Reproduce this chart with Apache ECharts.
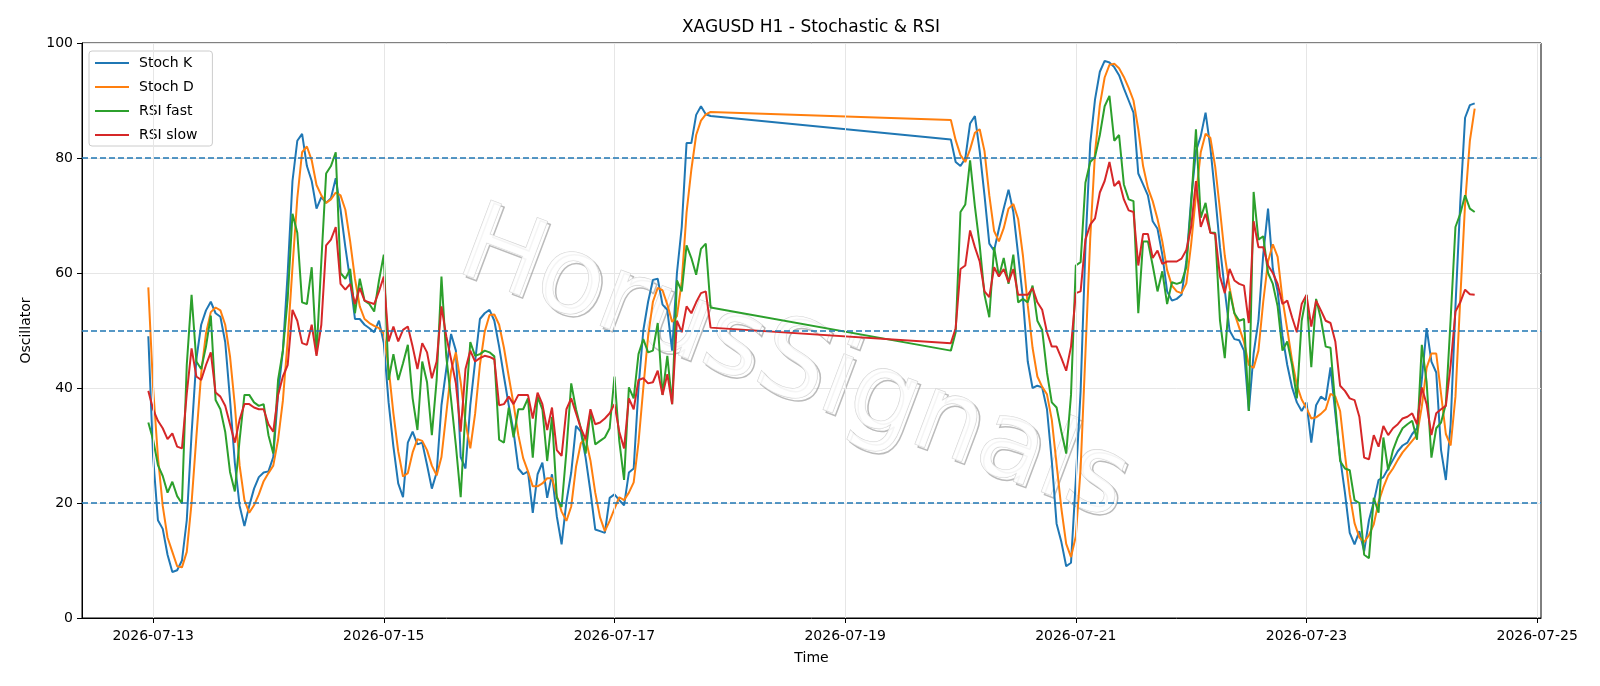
<!DOCTYPE html>
<html>
<head>
<meta charset="utf-8">
<title>XAGUSD H1 - Stochastic &amp; RSI</title>
<script src="https://cdn.jsdelivr.net/npm/echarts@6/dist/echarts.min.js"></script>
<style>
  html, body { margin: 0; padding: 0; background: #fff; }
  #chart { width: 1600px; height: 686px; }
</style>
</head>
<body>
<div id="chart"></div>
<script>
const HOUR = 3600 * 1000;

// two hourly sessions, weekend gap in between
const sessions = [
  { start: Date.UTC(2026, 6, 12, 23), hours: 118 },
  { start: Date.UTC(2026, 6, 19, 22), hours: 110 }
];

const tickDates = ['2026-07-13', '2026-07-15', '2026-07-17', '2026-07-19', '2026-07-21', '2026-07-23', '2026-07-25'];
const levels = [80, 50, 20];

const stochK = [
  // week 1
  49, 28, 17, 15.5, 11, 8, 8.3, 10, 17, 32,
  45, 51, 53.5, 55, 53, 52.4, 48, 38, 27, 19.5,
  16, 19.5, 22.5, 24.5, 25.3, 25.5, 28, 39, 46.5, 60,
  76, 83, 84.2, 78.6, 76, 71.2, 73.2, 72.2, 73, 76.5,
  71, 64.5, 58.7, 52, 52, 51, 50.4, 49.7, 51.7, 47.8,
  37.5, 29.8, 23.4, 21, 30.5, 32.4, 30.2, 30.5, 26.6, 22.5,
  25.3, 37, 43.3, 49.4, 46.5, 28, 26, 37, 44.6, 52,
  53, 53.6, 51.7, 47.2, 42, 37, 32.4, 26, 25, 25.5,
  18.3, 25, 27, 20.9, 25, 17.7, 12.8, 20.2, 25.3, 33.4,
  32.4, 27.9, 22, 15.4, 15.1, 14.8, 20.9, 21.5, 20.5, 19.6,
  25.3, 26, 40, 50, 55, 58.8, 59, 54.5, 53.6, 46.5,
  60, 68, 82.6, 82.6, 87.5, 89, 87.6, 87.3,
  // week 2
  83.2, 79.3, 78.6, 79.9, 86, 87.3, 81.2, 73.5, 65.1, 63.9,
  67.7, 71.2, 74.5, 70.6, 63.2, 55.5, 44.6, 40, 40.4, 40.1,
  36.3, 27.3, 16.4, 13.2, 9, 9.6, 24, 39.5, 64.5, 82.5,
  90.2, 95, 96.9, 96.6, 95.8, 94.4, 92.1, 90, 87.9, 77.3,
  75.4, 73.5, 69, 67.7, 63.2, 56.8, 55.2, 55.5, 56.2, 62,
  72.8, 81.2, 83.8, 87.9, 81.8, 73.5, 64.5, 57, 50, 48.5,
  48.3, 46.5, 36, 46, 51.7, 63.2, 71.2, 60.7, 56.8, 49.1,
  44, 40.1, 37.5, 36, 37.5, 30.5, 37, 38.5, 37.9, 43.6,
  35.6, 27.9, 21.8, 14.8, 12.8, 15.1, 11.6, 17, 20.2, 24,
  24.5, 26, 27.5, 29, 30, 30.5, 32, 33, 41.5, 50.4,
  44.6, 42.7, 29.2, 24, 33.7, 54.2, 72.2, 87, 89.2, 89.5
];

const stochD = [
  57.5, 40, 28, 19.5, 14, 11.5, 9, 8.8, 11.5, 20,
  31.5, 42.5, 49.5, 53.2, 54, 53.5, 51, 45.5, 37, 26.5,
  20.5, 18.3, 19.6, 21.5, 23.8, 25.2, 26.5, 31, 37.8, 48.3,
  61, 73, 81, 82, 79.6, 75.3, 73.5, 72.2, 72.8, 74,
  73.5, 71, 65.5, 59, 54.2, 52, 51.3, 50.8, 50.4, 49.5,
  43.5, 35.6, 29, 24.6, 25.2, 28.8, 31.1, 30.8, 29.2, 26.5,
  24.8, 28, 35.5, 43, 46.2, 41, 34, 29.5, 35.5, 44,
  49.8, 52.7, 52.8, 51, 47, 42, 37.2, 31.8, 27.8, 25.5,
  22.9, 22.9, 23.4, 24.3, 24.3, 21.2, 18.5, 16.9, 19.4, 26.3,
  30.4, 31.3, 27.4, 21.8, 17.5, 15.1, 16.9, 19, 21, 20.5,
  21.8, 23.6, 30.5, 40, 49, 55, 57.4, 57, 54.5, 51.5,
  52.5, 58.5, 70.5, 78, 84, 86.5, 87.6, 88,
  86.6, 83.1, 80.5, 79.3, 81.5, 84.4, 85, 81.2, 73.5, 67.3,
  65.5, 67.8, 71.2, 72, 69.4, 63, 54.4, 47, 42, 40.2,
  38.9, 34.5, 26.7, 19, 12.9, 10.6, 14.2, 26, 46, 66,
  81, 89.2, 94, 96.2, 96.4, 95.6, 94.1, 92.2, 90, 85,
  78.6, 74.8, 72.5, 69.4, 65.5, 60.5, 57.8, 56.8, 56.5, 58.2,
  65, 73.5, 81, 84.2, 83.5, 78.5, 71, 63, 57.5, 53,
  50.5, 48, 44, 43.5, 46.5, 55, 62, 65, 62.8, 55.5,
  50.2, 44.8, 40.5, 38, 36.5, 34.7, 34.9, 35.5, 36.3, 39,
  38.5, 36, 28.5, 21.5, 16.5, 14, 13.2, 14.4, 16.3, 20.2,
  22.7, 24.8, 26, 27.5, 28.8, 29.8, 30.8, 31.8, 36.8, 43.5,
  46, 46, 39, 32, 30, 38.5, 55.5, 72, 83, 88.6
];

const rsiFast = [
  34, 31, 26.6, 24.7, 21.8, 23.7, 21.2, 19.9, 44, 56.2,
  44.6, 43.3, 47.2, 52.6, 37.9, 36.3, 32.4, 25.4, 22, 31,
  38.8, 38.8, 37.5, 36.9, 37.2, 31.8, 28.6, 41.4, 46.5, 55.5,
  70.3, 67, 54.9, 54.6, 61, 45.9, 62, 77.3, 78.6, 81,
  60, 59, 60.7, 53, 59, 55.2, 54.6, 53.3, 58.7, 63.2,
  41.4, 45.9, 41.4, 44.3, 47.5, 38.2, 32.7, 44.6, 41, 31.8,
  41.4, 59.4, 45.5, 38, 30, 21, 36.3, 48, 45.6, 45.9,
  46.5, 46.2, 45.5, 31, 30.5, 36.6, 31.4, 36.3, 36.3, 38.2,
  27.9, 38.5, 36.3, 27.3, 35, 20.9, 19.3, 29, 40.8, 36.3,
  33, 28.6, 36, 30.2, 30.8, 31.4, 33, 42, 30.8, 24,
  40.1, 38.2, 45.9, 48.5, 46.2, 46.5, 51.3, 38.8, 45.6, 37.2,
  58.7, 56.8, 64.8, 62.6, 59.7, 64.2, 65.1, 54,
  46.5, 49.7, 70.6, 71.9, 79.6, 71.6, 64.8, 56.2, 52.3, 64.5,
  59.4, 62.6, 58.1, 63.2, 54.9, 55.5, 54.9, 57.8, 51.7, 50.1,
  42.7, 37.5, 36.6, 32.4, 28.6, 38.8, 61.3, 61.9, 75.7, 79.3,
  80.2, 84, 89, 90.8, 83, 84, 75.4, 72.8, 72.5, 53,
  65.5, 65.5, 61.3, 56.8, 60.3, 54.6, 58.4, 58.1, 58.4, 61,
  72, 85, 69.6, 72.2, 67, 67, 51.7, 45.2, 56.8, 53,
  51.7, 52, 36, 74.1, 65.8, 66.4, 60, 58.1, 54.2, 46.5,
  48.1, 44, 38.2, 51.7, 56.2, 43.6, 55.5, 52, 47.2, 47,
  37, 27.3, 26, 25.7, 20.5, 20, 11, 10.4, 20.9, 18.3,
  31.4, 25.7, 29.2, 31.4, 33, 33.7, 34.3, 31, 47.5, 41,
  27.9, 33, 34, 37.2, 52, 68, 70.3, 73.5, 71.2, 70.6
];

const rsiSlow = [
  39.5, 36.3, 34.3, 33, 31.1, 32.1, 29.8, 29.5, 39, 46.9,
  42, 41.4, 44, 46.2, 39.2, 38.5, 36.9, 33.7, 30.5, 34.5,
  37.2, 37.2, 36.6, 36.3, 36.3, 33.7, 32.4, 38.8, 42, 44,
  53.6, 51.7, 47.8, 47.5, 51, 45.6, 51, 64.8, 65.8, 68,
  58.1, 57.1, 58.1, 54.6, 57.4, 55.2, 54.9, 54.6, 56.8, 59.4,
  48.1, 50.7, 48.1, 50.1, 50.7, 47.2, 43.3, 47.8, 46.2, 41.7,
  44.6, 54.2, 49, 45, 40.8, 32.4, 43.3, 46.5, 44.6, 45.2,
  45.6, 45.4, 45, 37, 37.2, 38.5, 37.2, 38.8, 38.8, 38.8,
  34.7, 39.2, 37.2, 32.7, 36.6, 29.2, 28.2, 36.3, 38.2, 35.6,
  33, 31.1, 36.3, 33.7, 34, 34.7, 35.6, 37.2, 32.4, 29.5,
  38.2, 36.3, 41.4, 41.7, 40.8, 41, 43, 38.8, 42.4, 37.2,
  51.7, 49.7, 54.2, 53, 54.9, 56.5, 56.8, 50.5,
  47.8, 50.4, 60.7, 61.3, 67.4, 64.5, 62, 56.8, 55.8, 61,
  59.4, 60.7, 58.4, 60.7, 56.2, 56.2, 56.2, 57.4, 54.9, 53.6,
  49.7, 47.2, 47.2, 45.2, 43, 47.2, 56.5, 56.8, 65.8, 68.4,
  69.5, 74, 76, 79.3, 75.1, 76, 72.8, 70.9, 70.6, 61.3,
  66.8, 66.8, 62.6, 63.9, 61.6, 62, 62, 62, 62.5, 64,
  68, 76, 68, 70.3, 67, 66.8, 59.4, 56.5, 60.7, 58.7,
  58.1, 57.8, 51.3, 69, 64.5, 64.5, 61.3, 60, 58.1, 54.6,
  55.2, 52.3, 49.7, 54.6, 56.2, 50.7, 55.2, 53.5, 51.7, 51.3,
  48.1, 40.4, 39.5, 38.2, 37.9, 35, 27.9, 27.6, 31.8, 29.8,
  33.4, 31.8, 33, 33.7, 34.7, 35, 35.6, 33.7, 40.1, 37.2,
  31.8, 35.6, 36.3, 36.9, 44, 53.3, 54.9, 57.1, 56.3, 56.2
];

const times = [];
sessions.forEach(s => {
  for (let i = 0; i < s.hours; i++) times.push(s.start + i * HOUR);
});

const tickValues = tickDates.map(d => Date.parse(d + 'T00:00:00Z'));
const font = 'DejaVu Sans';

function lineSeries(name, values, color) {
  return {
    name: name,
    type: 'line',
    data: times.map((t, i) => [t, values[i]]),
    symbol: 'none',
    lineStyle: { width: 2, color: color },
    itemStyle: { color: color },
    z: 3
  };
}

// watermark: grey outline with a darker offset shadow
function watermark(dx, dy, stroke, fill, width) {
  return {
    type: 'text',
    x: 793 + dx, y: 368 + dy,
    rotation: -0.36,
    z: 1,
    silent: true,
    style: {
      text: 'HorusSignals',
      font: '108px "DejaVu Sans"',
      align: 'center',
      verticalAlign: 'middle',
      fill: fill,
      stroke: stroke,
      lineWidth: width
    }
  };
}

const chart = echarts.init(document.getElementById('chart'));

const option = {
  animation: false,
  backgroundColor: '#fff',
  title: {
    text: 'XAGUSD H1 - Stochastic & RSI',
    left: 811,
    textAlign: 'center',
    top: 19,
    padding: 0,
    textStyle: { fontFamily: font, fontSize: 17, fontWeight: 'normal', color: '#000' }
  },
  legend: {
    data: ['Stoch K', 'Stoch D', 'RSI fast', 'RSI slow'],
    orient: 'vertical',
    left: 89,
    top: 51,
    itemWidth: 34,
    itemHeight: 14,
    itemGap: 10,
    padding: [5, 15, 4, 5],
    backgroundColor: 'rgba(255,255,255,0.8)',
    borderColor: '#cccccc',
    borderWidth: 1,
    borderRadius: 3,
    itemStyle: { opacity: 0 },
    textStyle: { fontFamily: font, fontSize: 14, color: '#000', padding: [0, 0, 0, 5] }
  },
  graphic: [
    watermark(3, 3, 'rgba(150,150,150,0.65)', 'rgba(255,255,255,0)', 1.5),
    watermark(0, 0, '#d4d4d4', 'rgba(255,255,255,0.85)', 1.2)
  ],
  grid: {
    left: 82, right: 59, top: 43, bottom: 68,
    show: true,
    borderColor: '#000',
    borderWidth: 1,
    backgroundColor: 'transparent'
  },
  xAxis: {
    type: 'value',
    min: Date.UTC(2026, 6, 12, 9, 12),
    max: Date.UTC(2026, 6, 25, 0, 48),
    name: 'Time',
    nameLocation: 'middle',
    nameGap: 33,
    nameTextStyle: { fontFamily: font, fontSize: 14, color: '#000' },
    axisLine: { lineStyle: { color: '#000', width: 1 } },
    axisTick: { customValues: tickValues, length: 5, lineStyle: { color: '#000' } },
    axisLabel: {
      customValues: tickValues,
      formatter: v => new Date(v).toISOString().slice(0, 10),
      fontFamily: font, fontSize: 14, color: '#000', margin: 11
    },
    splitLine: { show: false }
  },
  yAxis: {
    type: 'value',
    min: 0,
    max: 100,
    interval: 20,
    name: 'Oscillator',
    nameLocation: 'middle',
    nameGap: 49,
    nameRotate: 90,
    nameTextStyle: { fontFamily: font, fontSize: 14, color: '#000' },
    axisLine: { show: true, lineStyle: { color: '#000', width: 1 } },
    axisTick: { show: true, length: 5, lineStyle: { color: '#000' } },
    axisLabel: { fontFamily: font, fontSize: 14, color: '#000', margin: 9 },
    splitLine: { show: true, lineStyle: { color: '#e6e6e6', width: 1 } }
  },
  series: [
    {
      name: 'xgrid',
      type: 'line',
      data: [],
      z: 0,
      markLine: {
        silent: true,
        symbol: 'none',
        label: { show: false },
        lineStyle: { color: '#e6e6e6', width: 1, type: 'solid' },
        data: tickValues.map(v => ({ xAxis: v }))
      }
    },
    lineSeries('Stoch K', stochK, '#1f77b4'),
    lineSeries('Stoch D', stochD, '#ff7f0e'),
    lineSeries('RSI fast', rsiFast, '#2ca02c'),
    lineSeries('RSI slow', rsiSlow, '#d62728'),
    {
      name: 'levels',
      type: 'line',
      data: [],
      z: 4,
      markLine: {
        silent: true,
        symbol: 'none',
        label: { show: false },
        lineStyle: { color: '#1f77b4', width: 1.5, type: [6, 3] },
        data: levels.map(v => ({ yAxis: v }))
      }
    }
  ]
};

chart.setOption(option);
</script>
</body>
</html>
